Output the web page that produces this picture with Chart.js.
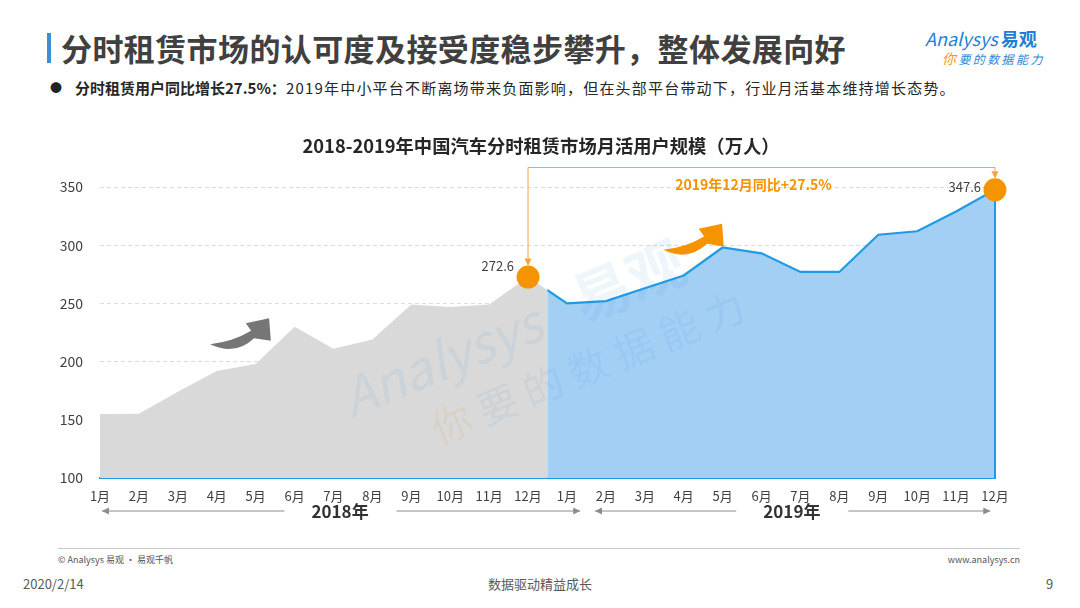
<!DOCTYPE html>
<html>
<head>
<meta charset="utf-8" />
<title>分时租赁市场月活用户规模</title>
<style>
  body { margin: 0; width: 1080px; height: 608px; overflow: hidden; background: #fff; position: relative;
         font-family: "Noto Sans CJK SC", "Noto Sans", sans-serif; color: #333; }
  .abs { position: absolute; white-space: nowrap; }
  #bar { left: 47px; top: 33px; width: 4px; height: 30px; background: #3b8fd9; }
  #head { left: 61px; top: 27px; font-size: 31px; font-weight: bold; color: #404040; line-height: 42px; letter-spacing: 0.4px; }
  #dot { left: 50px; top: 80px; font-size: 12px; line-height: 16px; color: #222; }
  #sub { left: 75px; top: 78px; font-size: 15px; line-height: 20px; color: #262626; }
  #sub b { font-weight: bold; }
  #sub span { letter-spacing: 1.2px; }
  #logo1 { left: 925px; top: 26px; font-size: 18px; line-height: 24px; color: #1e7fd6; font-style: italic; }
  #logo1 b { font-style: normal; font-size: 18px; margin-left: 3px; }
  #logo2 { left: 942px; top: 49px; font-size: 12px; line-height: 18px; color: #2f86d4; font-style: italic; letter-spacing: 2.4px; }
  #logo2 span { color: #f29a1e; font-size: 14px; }
  #hr { left: 58px; top: 548px; width: 962px; height: 1px; background: #c8c8c8; }
  #copy { left: 58px; top: 553px; font-size: 9px; line-height: 14px; color: #555; }
  #site { right: 60px; top: 553px; font-size: 9px; line-height: 14px; color: #555; }
  #date { left: 23px; top: 575px; font-size: 13px; line-height: 18px; color: #595959; }
  #slogan { left: 0; width: 1080px; text-align: center; top: 575px; font-size: 13px; line-height: 18px; color: #595959; }
  #page { left: 1046px; top: 575px; font-size: 13px; line-height: 18px; color: #595959; }
  canvas { position: absolute; left: 0; top: 0; }
</style>
</head>
<body>
  <div class="abs" id="bar"></div>
  <div class="abs" id="head">分时租赁市场的认可度及接受度稳步攀升，整体发展向好</div>
  <div class="abs" id="dot">●</div>
  <div class="abs" id="sub"><b>分时租赁用户同比增长27.5%：</b><span>2019年中小平台不断离场带来负面影响，但在头部平台带动下，行业月活基本维持增长态势。</span></div>
  <div class="abs" id="logo1">Analysys<b>易观</b></div>
  <div class="abs" id="logo2"><span>你</span>要的数据能力</div>
  <div class="abs" id="hr"></div>
  <div class="abs" id="copy">© Analysys 易观 · 易观千帆</div>
  <div class="abs" id="site">www.analysys.cn</div>
  <div class="abs" id="date">2020/2/14</div>
  <div class="abs" id="slogan">数据驱动精益成长</div>
  <div class="abs" id="page">9</div>

  <canvas id="chart" width="1080" height="608"></canvas>

  <script src="https://cdn.jsdelivr.net/npm/chart.js"></script>
  <script>
    // 月份（2018年1月 ~ 2019年12月）
    var months = ["1月", "2月", "3月", "4月", "5月", "6月", "7月", "8月", "9月", "10月", "11月", "12月",
                  "1月", "2月", "3月", "4月", "5月", "6月", "7月", "8月", "9月", "10月", "11月", "12月"];
    // 月活用户规模（万人）
    var users = [155, 155.3, 174, 192, 198, 230, 211, 219, 249, 247, 249, 272.6,
                 250, 252, 263, 274, 298, 293, 277, 277, 309, 312, 329, 347.6];
    // 标注的点
    var highlight = [11, 23];
    var years = ["2018年", "2019年"];
    var yoyText = "2019年12月同比+27.5%";
    var chartTitle = "2018-2019年中国汽车分时租赁市场月活用户规模（万人）";
    var yMin = 100, yMax = 350, yStep = 50;

    var FONT = '"Noto Sans CJK SC", "Noto Sans", sans-serif';
    var BLUE = "#1f9be6", ORANGE = "#f59300";
    Chart.defaults.font.family = FONT;

    // 2018 灰色 / 2019 蓝色，以 12月-1月 中点分开
    function midX(chart) {
      var x = chart.scales.x;
      return (x.getPixelForValue(11) + x.getPixelForValue(12)) / 2;
    }

    var splitClip = {
      id: "splitClip",
      beforeDatasetDraw: function (chart, args) {
        if (args.index > 1) return;
        var ctx = chart.ctx, m = midX(chart);
        ctx.save();
        ctx.beginPath();
        if (args.index === 0) ctx.rect(0, 0, m, chart.height);
        else ctx.rect(m, 0, chart.width - m, chart.height);
        ctx.clip();
      },
      afterDatasetDraw: function (chart, args) {
        if (args.index > 1) return;
        var ctx = chart.ctx;
        ctx.restore();
        if (args.index === 1) {
          // 右侧边线
          var x = chart.scales.x, y = chart.scales.y;
          var xe = x.getPixelForValue(users.length - 1);
          ctx.save();
          ctx.strokeStyle = BLUE;
          ctx.lineWidth = 2;
          ctx.beginPath();
          ctx.moveTo(xe, chart.chartArea.bottom);
          ctx.lineTo(xe, y.getPixelForValue(users[users.length - 1]));
          ctx.stroke();
          ctx.restore();
        }
      }
    };

    // 裁剪要在 filler 画填充之前生效，所以把它排在 filler 前面
    var filler = Chart.registry.getPlugin("filler");
    Chart.unregister(filler);
    Chart.register(splitClip, filler);

    function curvedArrow(ctx, px, py, color) {
      ctx.save();
      ctx.translate(px, py);
      ctx.fillStyle = color;
      ctx.beginPath();
      ctx.moveTo(0, 0);
      ctx.quadraticCurveTo(25, 12, 44, -6);
      ctx.lineTo(60.7, -3.3);
      ctx.lineTo(59, -26);
      ctx.lineTo(35.7, -21);
      ctx.lineTo(41, -13.3);
      ctx.quadraticCurveTo(22, -2, 0, 0);
      ctx.closePath();
      ctx.fill();
      ctx.restore();
    }

    function lineArrow(ctx, x1, x2, y, head) {
      // head: -1 左箭头，1 右箭头
      ctx.beginPath();
      ctx.moveTo(x1, y);
      ctx.lineTo(x2, y);
      ctx.stroke();
      var tx = head < 0 ? x1 : x2;
      ctx.beginPath();
      ctx.moveTo(tx, y);
      ctx.lineTo(tx - head * 7, y - 3.5);
      ctx.lineTo(tx - head * 7, y + 3.5);
      ctx.closePath();
      ctx.fill();
    }

    var decor = {
      id: "decor",
      afterDatasetsDraw: function (chart) {
        // 水印
        var ctx = chart.ctx;
        ctx.save();
        ctx.translate(352, 418);
        ctx.rotate(-0.39);
        ctx.fillStyle = "rgba(40,140,215,0.08)";
        ctx.font = "italic 52px " + FONT;
        ctx.fillText("Analysys", 0, 0);
        ctx.font = "bold 58px " + FONT;
        ctx.fillText("易观", 250, 0);
        ctx.font = "40px " + FONT;
        ctx.fillStyle = "rgba(240,150,40,0.10)";
        ctx.fillText("你", 70, 58);
        ctx.fillStyle = "rgba(40,140,215,0.08)";
        ctx.fillText("要 的 数 据 能 力", 120, 58);
        ctx.restore();
      },
      afterDraw: function (chart) {
        var ctx = chart.ctx, x = chart.scales.x, y = chart.scales.y;
        ctx.save();

        // 图表标题
        ctx.fillStyle = "#262626";
        ctx.font = "bold 18.3px " + FONT;
        ctx.textAlign = "center";
        ctx.textBaseline = "middle";
        ctx.fillText(chartTitle, 541, chart.chartArea.top - 41);

        // 弯曲箭头
        curvedArrow(ctx, x.getPixelForValue(2.83), y.getPixelForValue(215), "#767676");
        curvedArrow(ctx, x.getPixelForValue(14.47), y.getPixelForValue(296), ORANGE);

        // 同比标注
        var x0 = x.getPixelForValue(highlight[0]), x1 = x.getPixelForValue(highlight[1]);
        var y0 = y.getPixelForValue(users[highlight[0]]), y1 = y.getPixelForValue(users[highlight[1]]);
        var top = y.getPixelForValue(yMax) - 19.5;
        ctx.strokeStyle = "#f5a540";
        ctx.fillStyle = "#f5a540";
        ctx.lineWidth = 1;
        ctx.beginPath();
        ctx.moveTo(x0, y0 - 18);
        ctx.lineTo(x0, top);
        ctx.lineTo(x1, top);
        ctx.lineTo(x1, y1 - 18);
        ctx.stroke();
        [[x0, y0], [x1, y1]].forEach(function (p) {
          ctx.beginPath();
          ctx.moveTo(p[0], p[1] - 11);
          ctx.lineTo(p[0] - 3.5, p[1] - 18.5);
          ctx.lineTo(p[0] + 3.5, p[1] - 18.5);
          ctx.closePath();
          ctx.fill();
        });
        ctx.fillStyle = ORANGE;
        ctx.font = "bold 14px " + FONT;
        ctx.textAlign = "center";
        ctx.fillText(yoyText, (x0 + x1) / 2 - 8, top + 17);

        // 数据标签
        ctx.fillStyle = "#404040";
        ctx.font = "13px " + FONT;
        ctx.textAlign = "right";
        ctx.fillText(users[highlight[0]].toFixed(1), x0 - 14, y0 - 11);
        ctx.fillText(users[highlight[1]].toFixed(1), x1 - 14, y1 - 3);

        // 年份区间
        var yy = chart.chartArea.bottom + 33;
        ctx.strokeStyle = "#8c8c8c";
        ctx.fillStyle = "#8c8c8c";
        lineArrow(ctx, x.getPixelForValue(0.05), x.getPixelForValue(4.74), yy, -1);
        lineArrow(ctx, x.getPixelForValue(7.62), x.getPixelForValue(12.34), yy, 1);
        lineArrow(ctx, x.getPixelForValue(12.72), x.getPixelForValue(16.35), yy, -1);
        lineArrow(ctx, x.getPixelForValue(19.23), x.getPixelForValue(22.88), yy, 1);
        ctx.fillStyle = "#333";
        ctx.font = "bold 17px " + FONT;
        ctx.textAlign = "center";
        ctx.fillText(years[0], x.getPixelForValue(6.17), yy + 1);
        ctx.fillText(years[1], x.getPixelForValue(17.78), yy + 1);
        ctx.restore();
      }
    };

    var ctx = document.getElementById("chart").getContext("2d");
    var chart = new Chart(ctx, {
      type: "line",
      data: {
        labels: months,
        datasets: [
          {
            label: "2018",
            data: users,
            fill: "start",
            backgroundColor: "#d9d9d9",
            borderWidth: 0,
            pointRadius: 0,
            tension: 0,
            order: 3
          },
          {
            label: "2019",
            data: users,
            fill: "start",
            backgroundColor: "#a3cff5",
            borderColor: BLUE,
            borderWidth: 2.2,
            pointRadius: 0,
            tension: 0,
            order: 2
          },
          {
            label: "标注",
            data: users,
            showLine: false,
            clip: false,
            pointRadius: function (c) { return highlight.indexOf(c.dataIndex) >= 0 ? 11.5 : 0; },
            pointBackgroundColor: ORANGE,
            pointBorderWidth: 0,
            order: 1
          }
        ]
      },
      options: {
        responsive: false,
        animation: false,
        events: [],
        layout: { padding: { left: 40, right: 85, top: 187, bottom: 100 } },
        plugins: {
          legend: { display: false },
          tooltip: { enabled: false },
          title: { display: false }
        },
        scales: {
          x: {
            offset: false,
            z: 1,
            grid: { drawOnChartArea: false, drawTicks: false },
            border: { color: BLUE, width: 2 },
            ticks: { color: "#404040", font: { size: 13 }, padding: 10, autoSkip: false, maxRotation: 0 },
            afterFit: function (s) { s.height = 30; }
          },
          y: {
            min: yMin,
            max: yMax,
            grid: { color: "#dcdcdc", drawTicks: false },
            border: { display: false, dash: [4, 3] },
            ticks: { stepSize: yStep, color: "#404040", font: { size: 14 }, padding: 17 },
            afterFit: function (s) { s.width = 60; }
          }
        }
      },
      plugins: [decor]
    });
  </script>
</body>
</html>
